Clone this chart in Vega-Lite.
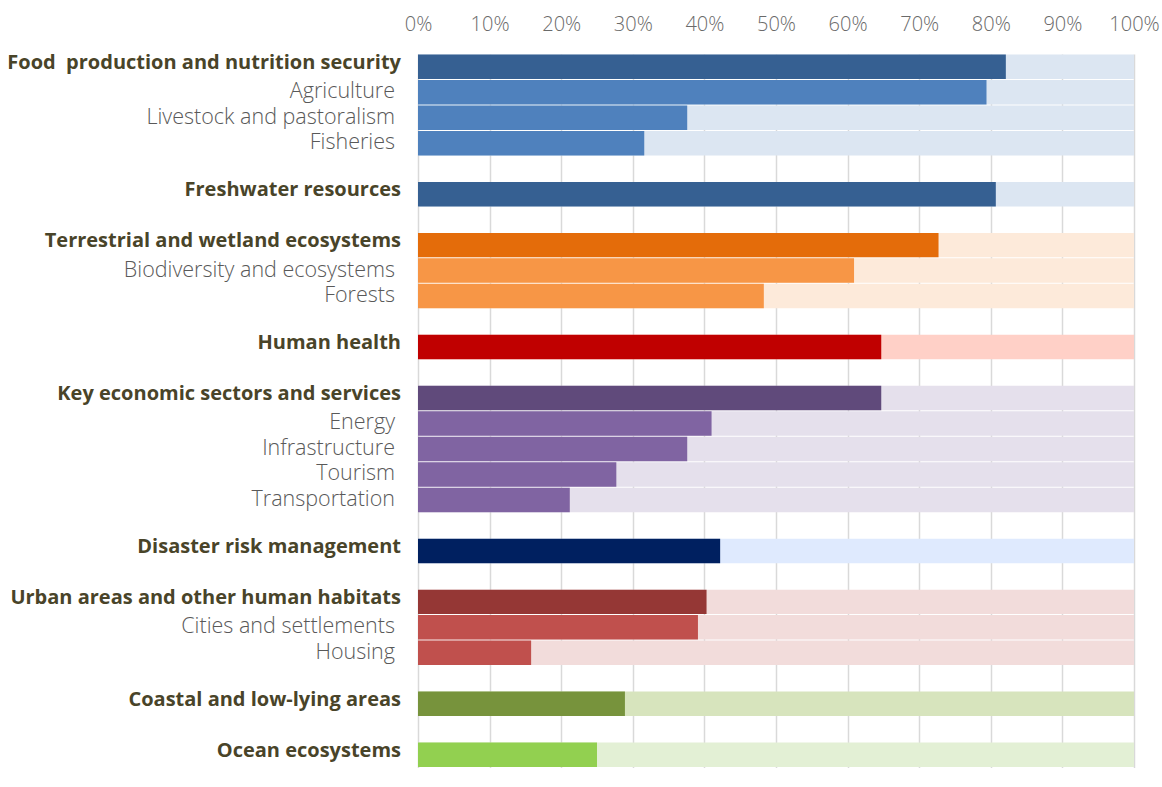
{
  "$schema": "https://vega.github.io/schema/vega-lite/v6.json",
  "autosize": {"type": "none"},
  "padding": {"left": 418, "top": 54, "right": 28, "bottom": 0},
  "width": 716,
  "height": 733,
  "background": "white",
  "config": {"view": {"stroke": null}, "font": "Open Sans"},
  "data": {
    "values": [
      {"id": "r01", "label": "Food\u00a0 production and nutrition security", "group": "food", "tier": "main", "shade": "food-main", "value": 82.1},
      {"id": "r02", "label": "Agriculture\u00a0", "group": "food", "tier": "sub", "shade": "food-sub", "value": 79.4},
      {"id": "r03", "label": "Livestock and pastoralism", "group": "food", "tier": "sub", "shade": "food-sub", "value": 37.6},
      {"id": "r04", "label": "Fisheries", "group": "food", "tier": "sub", "shade": "food-sub", "value": 31.6},
      {"id": "r06", "label": "Freshwater resources", "group": "food", "tier": "main", "shade": "food-main", "value": 80.7},
      {"id": "r08", "label": "Terrestrial and wetland ecosystems", "group": "terr", "tier": "main", "shade": "terr-main", "value": 72.7},
      {"id": "r09", "label": "Biodiversity and ecosystems", "group": "terr", "tier": "sub", "shade": "terr-sub", "value": 60.9},
      {"id": "r10", "label": "Forests", "group": "terr", "tier": "sub", "shade": "terr-sub", "value": 48.3},
      {"id": "r12", "label": "Human health", "group": "health", "tier": "main", "shade": "health-main", "value": 64.7},
      {"id": "r14", "label": "Key economic sectors and services", "group": "econ", "tier": "main", "shade": "econ-main", "value": 64.7},
      {"id": "r15", "label": "Energy", "group": "econ", "tier": "sub", "shade": "econ-sub", "value": 41.0},
      {"id": "r16", "label": "Infrastructure", "group": "econ", "tier": "sub", "shade": "econ-sub", "value": 37.6},
      {"id": "r17", "label": "Tourism", "group": "econ", "tier": "sub", "shade": "econ-sub", "value": 27.7},
      {"id": "r18", "label": "Transportation", "group": "econ", "tier": "sub", "shade": "econ-sub", "value": 21.2},
      {"id": "r20", "label": "Disaster risk management", "group": "disaster", "tier": "main", "shade": "disaster-main", "value": 42.2},
      {"id": "r22", "label": "Urban areas and other human habitats", "group": "urban", "tier": "main", "shade": "urban-main", "value": 40.3},
      {"id": "r23", "label": "Cities and settlements", "group": "urban", "tier": "sub", "shade": "urban-sub", "value": 39.1},
      {"id": "r24", "label": "Housing", "group": "urban", "tier": "sub", "shade": "urban-sub", "value": 15.8},
      {"id": "r26", "label": "Coastal and low-lying areas", "group": "coastal", "tier": "main", "shade": "coastal-main", "value": 28.9},
      {"id": "r28", "label": "Ocean ecosystems", "group": "ocean", "tier": "main", "shade": "ocean-main", "value": 25.0}
    ]
  },
  "encoding": {
    "y": {
      "field": "id",
      "type": "nominal",
      "axis": null,
      "scale": {
        "domain": ["r01","r02","r03","r04","r05","r06","r07","r08","r09","r10","r11","r12","r13","r14","r15","r16","r17","r18","r19","r20","r21","r22","r23","r24","r25","r26","r27","r28"],
        "range": [0, 713.5],
        "paddingInner": 0.04,
        "paddingOuter": 0.02
      }
    }
  },
  "layer": [
    {
      "mark": {"type": "bar", "cornerRadius": 0},
      "encoding": {
        "x": {
          "datum": 100,
          "type": "quantitative",
          "scale": {"domain": [0, 100], "nice": false},
          "axis": {
            "orient": "top",
            "values": [0, 10, 20, 30, 40, 50, 60, 70, 80, 90, 100],
            "labelExpr": "datum.value + '%'",
            "title": null,
            "domain": false,
            "ticks": false,
            "labelPadding": 20,
            "labelFont": "Open Sans",
            "labelFontWeight": 300,
            "labelFontSize": 20,
            "labelColor": "#6a6a6a",
            "labelFlush": false,
            "grid": true,
            "gridColor": "#d9d9d9",
            "gridWidth": 1.5
          }
        },
        "color": {
          "field": "group",
          "type": "nominal",
          "legend": null,
          "scale": {
            "domain": ["food", "terr", "health", "econ", "disaster", "urban", "coastal", "ocean"],
            "range": ["#dce6f2", "#fdeada", "#ffd0c7", "#e5e0ec", "#dfeafe", "#f2dcdb", "#d7e4bd", "#e3f0d5"]
          }
        }
      }
    },
    {
      "mark": {"type": "bar"},
      "encoding": {
        "x": {"field": "value", "type": "quantitative"},
        "color": {
          "field": "shade",
          "type": "nominal",
          "legend": null,
          "scale": {
            "domain": ["food-main", "food-sub", "terr-main", "terr-sub", "health-main", "econ-main", "econ-sub", "disaster-main", "urban-main", "urban-sub", "coastal-main", "ocean-main"],
            "range": ["#366092", "#4f81bd", "#e46c0a", "#f79646", "#c00000", "#604a7b", "#8064a2", "#002060", "#953735", "#c0504d", "#77933c", "#92d050"]
          }
        }
      }
    },
    {
      "transform": [{"filter": "datum.tier == 'main'"}],
      "mark": {"type": "text", "align": "right", "baseline": "middle", "dx": -17, "dy": -4, "font": "Open Sans", "fontWeight": "bold", "fontSize": 20, "color": "#494429"},
      "encoding": {
        "x": {"datum": 0, "type": "quantitative"},
        "text": {"field": "label"}
      }
    },
    {
      "transform": [{"filter": "datum.tier == 'sub'"}],
      "mark": {"type": "text", "align": "right", "baseline": "middle", "dx": -23, "dy": 0, "font": "Open Sans", "fontWeight": 300, "fontSize": 21.5, "color": "#595959"},
      "encoding": {
        "x": {"datum": 0, "type": "quantitative"},
        "text": {"field": "label"}
      }
    }
  ],
  "resolve": {"scale": {"color": "independent"}}
}
